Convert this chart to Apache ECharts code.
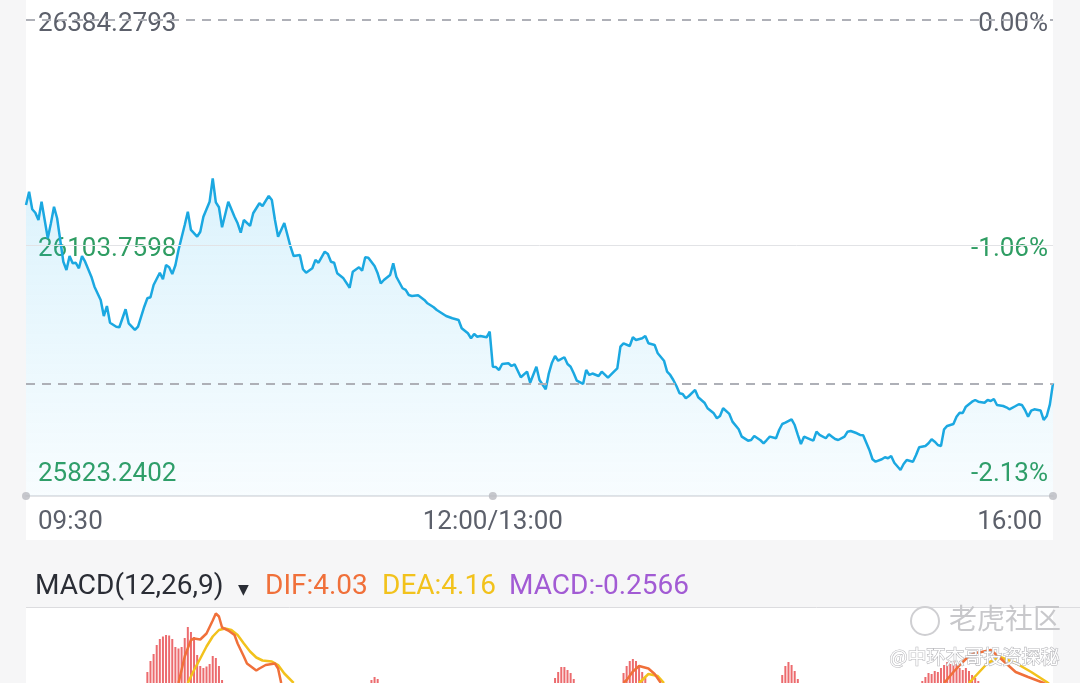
<!DOCTYPE html>
<html>
<head>
<meta charset="utf-8">
<script src="https://cdn.jsdelivr.net/npm/echarts@6/dist/echarts.min.js"></script>
<style>
  html, body { margin: 0; padding: 0; background: #f6f6f7; }
  .wrap { position: relative; width: 1080px; height: 683px; overflow: hidden; }
  .panel { position: absolute; background: #fff; }
  #chart { position: absolute; left: 0; top: 0; width: 1080px; height: 683px; }
</style>
</head>
<body>
<div class="wrap">
  <div class="panel" style="left:26px;top:0;width:1027px;height:540px"></div>
  <div class="panel" style="left:26px;top:608px;width:1027px;height:75px"></div>
  <div id="chart"></div>
</div>
<script>
// 分时数据 (minute index from 09:30, 0..330, lunch break collapsed at 150)
const minuteIdx = [0,1,2,3,4,5,6,7,8,9,10,11,12,13,14,15,16,17,18,19,21,22,24,25,26,27,29,30,32,33,35,36,38,39,40,41,43,44,45,46,47,48,49,51,52,53,55,56,57,59,60,61,62,63,65,67,68,69,70,72,73,75,76,78,79,80,81,83,85,86,88,89,90,92,93,94,96,97,98,99,100,102,104,105,107,108,109,110,112,113,114,115,117,118,119,121,122,123,124,126,128,129,131,132,134,135,137,139,140,142,143,144,145,146,148,149,150,151,152,153,155,156,157,159,161,162,164,165,167,168,169,170,171,173,174,175,176,177,179,180,181,182,184,185,187,189,190,191,192,194,195,196,198,199,200,202,203,205,206,207,208,209,210,211,212,213,215,216,218,219,221,222,223,224,226,227,229,230,232,233,234,236,237,238,239,241,242,243,244,246,247,248,249,250,252,253,254,255,257,258,259,260,261,263,264,265,267,268,269,271,272,273,275,276,277,278,279,281,282,283,285,286,287,289,290,291,292,293,294,295,296,298,299,300,301,302,304,305,306,308,309,310,311,312,314,315,316,318,319,320,321,322,323,324,326,327,328,329,330];
const prices = [26153.6,26170.2,26148.3,26144.0,26134.9,26157.7,26134.9,26112.1,26130.8,26151.5,26137.1,26110.0,26082.9,26072.6,26090.0,26080.9,26081.5,26074.7,26090.0,26082.9,26064.2,26051.8,26035.2,26015.2,26027.7,26006.9,26001.9,26001.2,26023.6,26006.1,25997.8,26001.9,26026.8,26037.3,26038.6,26053.9,26069.2,26061.0,26078.8,26076.0,26067.6,26078.5,26097.5,26128.7,26145.3,26122.5,26114.1,26120.3,26139.0,26157.7,26186.9,26157.0,26150.8,26125.8,26157.7,26139.0,26130.8,26119.1,26134.9,26127.5,26143.3,26155.8,26152.4,26164.9,26159.9,26134.9,26114.1,26131.2,26101.6,26090.0,26091.3,26073.5,26069.2,26074.7,26085.1,26081.7,26095.4,26092.5,26082.9,26081.7,26068.5,26062.2,26050.5,26070.5,26076.0,26071.7,26088.4,26088.0,26077.6,26068.5,26056.0,26060.1,26066.4,26080.9,26064.2,26049.8,26047.7,26041.4,26040.2,26041.0,26035.2,26031.1,26026.1,26022.7,26017.7,26015.2,26012.4,26010.3,25999.9,25993.7,25987.4,25992.8,25989.4,25990.3,25988.7,25995.7,25952.0,25951.5,25947.9,25955.4,25956.3,25952.9,25955.0,25938.8,25945.8,25932.1,25952.0,25935.4,25923.9,25943.8,25957.0,25965.4,25959.5,25963.8,25955.4,25952.0,25943.8,25934.6,25930.5,25947.9,25941.7,25943.5,25940.4,25945.8,25938.3,25946.2,25950.0,25977.0,25981.2,25977.8,25988.7,25985.3,25987.4,25990.3,25981.2,25979.1,25968.7,25959.5,25945.8,25941.7,25935.4,25928.0,25918.9,25918.0,25912.6,25915.5,25923.0,25913.9,25907.1,25900.2,25893.9,25887.7,25890.6,25900.2,25893.1,25883.5,25874.0,25864.8,25859.8,25860.6,25865.6,25860.3,25856.5,25860.6,25864.8,25862.8,25873.1,25880.6,25882.2,25886.4,25879.3,25866.9,25855.6,25864.8,25861.5,25859.8,25871.0,25866.9,25862.8,25867.7,25864.8,25861.9,25860.6,25864.8,25871.0,25871.9,25869.0,25866.9,25866.6,25848.2,25836.6,25833.6,25836.6,25839.1,25837.8,25840.7,25832.3,25823.2,25830.7,25835.7,25833.6,25841.9,25851.5,25853.2,25856.5,25861.5,25858.5,25854.4,25853.2,25874.0,25878.1,25880.6,25889.7,25894.7,25894.3,25902.2,25908.4,25910.5,25908.4,25907.1,25910.5,25909.3,25911.8,25904.3,25903.0,25901.4,25898.9,25903.0,25905.2,25904.3,25898.0,25889.7,25897.2,25898.9,25897.5,25885.6,25890.6,25905.0,25931.3];

// 坐标轴刻度
const priceTicks = [26384.2793, 26103.7598, 25823.2402];
const pctTicks = ['0.00%', '-1.06%', '-2.13%'];
const tickMinutes = [0, 150, 330];
const timeLabels = ['09:30', '12:00/13:00', '16:00'];

// MACD 指标 (only the part that shows above the panel's bottom edge)
const macdParams = [12, 26, 9];
const headerNames = ['DIF', 'DEA', 'MACD'];
const headerValues = ['4.03', '4.16', '-0.2566'];
const barMin = [39,40,41,42,43,44,45,46,47,48,49,50,51,52,53,54,55,56,57,58,59,60,61,62,63, 111,112,113, 170,171,172,173,174,175,176, 192,193,194,195,196,197,198,199, 243,244,245,246,247,248, 288,289,290,291,292,293,294,295,296,297,298,299,300,301,302,303,304,305,306];
const barVal = [7.2,9.4,10.8,12.6,13.8,14.3,14.6,14.5,13.8,12.2,11.9,12.2,14.0,16.2,15.2,14.2,10.6,8.4,8.0,8.3,8.8,10.4,10.0,8.4,5.6, 5.6,6.2,5.8, 6.0,7.2,8.2,8.2,7.6,7.0,5.8, 7.0,8.4,9.4,9.8,9.4,8.4,7.2,6.0, 6.6,8.4,9.2,8.6,7.4,5.8, 5.4,6.2,7.0,6.8,7.4,7.2,8.0,8.6,9.2,8.8,9.4,8.8,8.0,7.6,8.0,7.4,6.6,6.0,5.4];
const difMin = [49,51,53,54,56,58,60,61,62,63,65,67,68,70,71,74,75,77,80,81,82,83, 192,193,195,197,200,202,204,205, 295,298,301,303,305,307,310,313,318,322,327,330];
const difVal = [5.0,10.3,13.6,13.9,13.7,14.9,17.5,18.9,18.3,16.1,15.5,14.6,12.9,10.3,8.9,7.5,7.9,8.6,8.9,7.9,5.0,null, 5.0,5.6,7.3,8.4,7.9,6.8,5.0,null, 5.0,7.2,9.2,10.4,11.0,11.2,11.6,10.0,7.2,6.2,5.0,4.03];
const deaMin = [52,54,56,58,60,62,64,66,68,70,72,74,76,79,81,83,86,87, 197,198,200,203,205,206, 303,309,313,318,323,328,330];
const deaVal = [5.0,7.6,9.9,12.3,14.3,15.6,15.9,15.6,14.6,12.9,11.3,10.1,9.5,9.3,8.6,6.9,5.0,null, 5.0,5.6,6.8,6.4,5.0,null, 5.0,9.0,10.2,9.0,7.2,5.2,4.16];

const FONT = 'Roboto, "Noto Sans", sans-serif';
const CJK = '"Noto Sans CJK SC", sans-serif';
const GREY = '#5c606b';
const GREEN = '#2f9d63';
const DIF_C = '#f0703a', DEA_C = '#f2c21c', MACD_C = '#a25bd4';

const pair = (xs, ys) => xs.map((x, i) => [x, ys[i] === null ? '-' : ys[i]]);
const prevClose = priceTicks[0];
const lastPrice = prices[prices.length - 1];
const tickIndex = v => priceTicks.findIndex(p => Math.abs(p - v) < 0.01);
// y 轴范围: 顶部略高于昨收, 以便虚线不被裁掉
const yMin = 25790.8;
const yMax = 26385.53;

// 价格标签: 昨收灰色, 其余绿色 (padding 让文字略低于刻度)
const tickRich = {
  g: { color: GREY, fontSize: 26, fontFamily: FONT, padding: [9, 0, 0, 0] },
  n: { color: GREEN, fontSize: 26, fontFamily: FONT, padding: [9, 0, 0, 0] }
};
const tagged = (v, text) => '{' + (tickIndex(v) === 0 ? 'g' : 'n') + '|' + text + '}';

const chart = echarts.init(document.getElementById('chart'));

chart.setOption({
  animation: false,
  textStyle: { fontFamily: FONT },
  grid: [
    { left: 26, right: 27, top: 19, bottom: 187 },
    { left: 26, right: 27, top: 608, bottom: 0 }
  ],
  xAxis: [
    {
      type: 'value', gridIndex: 0, min: 0, max: 330,
      splitLine: { show: false },
      axisTick: { show: false },
      axisLine: { show: true, lineStyle: { color: '#e3e4e7', width: 2 } },
      axisLabel: {
        customValues: tickMinutes,
        alignMinLabel: 'left',
        alignMaxLabel: 'right',
        margin: 13,
        fontSize: 26,
        color: GREY,
        formatter: v => {
          const i = tickMinutes.indexOf(v);
          if (i === 0) return '{l|' + timeLabels[i] + '}';
          if (i === tickMinutes.length - 1) return '{r|' + timeLabels[i] + '}';
          return timeLabels[i];
        },
        rich: {
          l: { padding: [0, 0, 0, 12], fontSize: 26, color: GREY, fontFamily: FONT },
          r: { padding: [0, 11, 0, 0], fontSize: 26, color: GREY, fontFamily: FONT }
        }
      }
    },
    { type: 'value', gridIndex: 1, min: 0, max: 330, show: false }
  ],
  yAxis: [
    {
      type: 'value', gridIndex: 0, min: yMin, max: yMax,
      splitLine: { show: false }, axisLine: { show: false }, axisTick: { show: false },
      axisLabel: {
        inside: true, margin: 12, fontSize: 26,
        customValues: priceTicks,
        formatter: v => tagged(v, priceTicks[tickIndex(v)].toFixed(4)),
        rich: tickRich
      }
    },
    {
      type: 'value', gridIndex: 0, position: 'right', min: yMin, max: yMax,
      splitLine: { show: false }, axisLine: { show: false }, axisTick: { show: false },
      axisLabel: {
        inside: true, margin: 5, fontSize: 26,
        customValues: priceTicks,
        formatter: v => tagged(v, pctTicks[tickIndex(v)]),
        rich: tickRich
      }
    },
    { type: 'value', gridIndex: 1, min: 5, max: 20, show: false }
  ],
  series: [
    {
      type: 'line',
      xAxisIndex: 0, yAxisIndex: 0,
      data: pair(minuteIdx, prices),
      showSymbol: false,
      lineStyle: { color: '#1ba8e1', width: 2.5 },
      areaStyle: {
        origin: 'start',
        color: {
          type: 'linear', x: 0, y: 0, x2: 0, y2: 1,
          colorStops: [
            { offset: 0, color: 'rgba(40,180,240,0.23)' },
            { offset: 1, color: 'rgba(40,180,240,0.05)' }
          ]
        }
      },
      markLine: {
        silent: true, symbol: 'none', label: { show: false },
        data: [
          { yAxis: prevClose, lineStyle: { color: '#aeb0b7', width: 2, type: [9, 7] } },
          { yAxis: priceTicks[1], lineStyle: { color: '#e2e3e6', width: 1, type: 'solid' } },
          { yAxis: lastPrice, lineStyle: { color: '#aeb0b7', width: 2, type: [9, 7] } }
        ]
      },
      z: 3
    },
    {
      // 时间轴上的圆点
      type: 'scatter',
      xAxisIndex: 0, yAxisIndex: 0,
      data: tickMinutes.map(m => [m, yMin]),
      symbolSize: 8,
      clip: false,
      itemStyle: { color: '#b9bac0' },
      z: 4
    },
    {
      type: 'bar',
      xAxisIndex: 1, yAxisIndex: 2,
      data: pair(barMin, barVal),
      barWidth: 2,
      itemStyle: { color: '#ec6b6e' }
    },
    {
      type: 'line',
      xAxisIndex: 1, yAxisIndex: 2,
      data: pair(difMin, difVal),
      showSymbol: false, connectNulls: false,
      lineStyle: { color: DIF_C, width: 2.5 },
      z: 5
    },
    {
      type: 'line',
      xAxisIndex: 1, yAxisIndex: 2,
      data: pair(deaMin, deaVal),
      showSymbol: false, connectNulls: false,
      lineStyle: { color: DEA_C, width: 2.5 },
      z: 4
    }
  ],
  graphic: [
    { type: 'line', shape: { x1: 26, y1: 607.5, x2: 1080, y2: 607.5 }, style: { stroke: '#dcdcdf', lineWidth: 1 } },
    { type: 'text', left: 35, top: 573, style: { text: 'MACD(' + macdParams.join(',') + ')', fill: '#2a2d35', font: '28px ' + FONT } },
    { type: 'text', left: 238, top: 583, style: { text: '▼', fill: '#2a2d35', font: '14px "DejaVu Sans"' } },
    { type: 'text', left: 265, top: 573, style: { text: headerNames[0] + ':' + headerValues[0], fill: DIF_C, font: '28px ' + FONT } },
    { type: 'text', left: 382, top: 573, style: { text: headerNames[1] + ':' + headerValues[1], fill: DEA_C, font: '28px ' + FONT } },
    { type: 'text', left: 509, top: 573, style: { text: headerNames[2] + ':' + headerValues[2], fill: MACD_C, font: '28px ' + FONT } },
    // 水印
    { type: 'circle', shape: { cx: 925, cy: 621, r: 14 }, style: { fill: 'none', stroke: '#cfcfd2', lineWidth: 2 }, z: 10 },
    { type: 'text', left: 949, top: 604, style: { text: '老虎社区', fill: '#c8c8cb', font: '28px ' + CJK }, z: 10 },
    { type: 'text', left: 889, top: 647, style: { text: '@中环杰哥投资探秘', fill: '#ffffff', stroke: '#b8b8bc', lineWidth: 1.2, font: '19px ' + CJK }, z: 10 }
  ]
});
</script>
</body>
</html>
